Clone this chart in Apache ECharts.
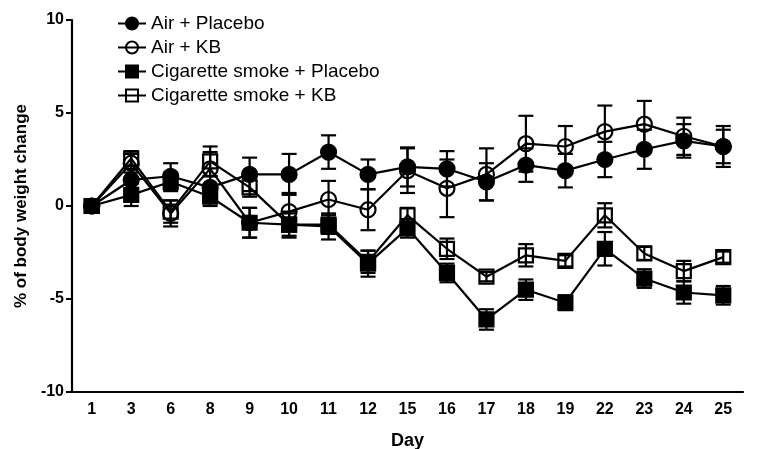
<!DOCTYPE html>
<html>
<head>
<meta charset="utf-8">
<script src="https://cdn.jsdelivr.net/npm/echarts@6/dist/echarts.min.js"></script>
<style>html,body{margin:0;padding:0;background:#fff}#c{width:761px;height:449px}</style>
</head>
<body>
<div id="c"></div>
<script>
const days = ['1','3','6','8','9','10','11','12','15','16','17','18','19','22','23','24','25'];
const yTicks = [-10, -5, 0, 5, 10];

const airPlacebo    = [0, 1.4, 1.6, 1.0, 1.7, 1.7, 2.9, 1.7, 2.1, 2.0, 1.3, 2.2, 1.9, 2.5, 3.05, 3.5, 3.2];
const airPlaceboErr = [0, 0.6, 0.7, 0.6, 0.9, 1.1, 0.9, 0.8, 1.05, 0.95, 1.0, 0.9, 0.9, 0.95, 1.05, 0.9, 0.9];

const airKB    = [0, 2.3, -0.4, 2.0, -0.9, -0.3, 0.35, -0.2, 1.9, 0.95, 1.7, 3.35, 3.2, 4.0, 4.4, 3.75, 3.2];
const airKBErr = [0, 0.5, 0.7, 0.9, 0.8, 1.0, 1.0, 1.1, 1.2, 1.55, 1.4, 1.5, 1.1, 1.4, 1.25, 1.0, 1.1];

const cigPlacebo    = [0, 0.6, 1.3, 0.5, -0.9, -1.0, -1.1, -3.1, -1.2, -3.6, -6.1, -4.5, -5.2, -2.3, -3.9, -4.65, -4.8];
const cigPlaceboErr = [0, 0.6, 0.5, 0.5, 0.8, 0.7, 0.7, 0.7, 0.5, 0.5, 0.55, 0.55, 0.4, 0.9, 0.5, 0.6, 0.5];

const cigKB    = [0, 2.55, -0.3, 2.4, 1.0, -1.0, -1.0, -3.0, -0.5, -2.3, -3.8, -2.65, -2.95, -0.5, -2.55, -3.5, -2.75];
const cigKBErr = [0, 0.4, 0.6, 0.8, 0.5, 0.6, 0.5, 0.6, 0.4, 0.55, 0.25, 0.6, 0.3, 0.65, 0.35, 0.55, 0.3];

const seriesDefs = [
  {name: 'Air + Placebo', mean: airPlacebo, err: airPlaceboErr, symbol: 'circle', filled: true, size: 15},
  {name: 'Air + KB', mean: airKB, err: airKBErr, symbol: 'circle', filled: false, size: 15},
  {name: 'Cigarette smoke + Placebo', mean: cigPlacebo, err: cigPlaceboErr, symbol: 'rect', filled: true, size: 14},
  {name: 'Cigarette smoke + KB', mean: cigKB, err: cigKBErr, symbol: 'rect', filled: false, size: 14}
];

function renderErr(params, api) {
  const x = api.value(0), lo = api.value(1), hi = api.value(2);
  if (hi === lo) return null;
  const p1 = api.coord([x, hi]);
  const p2 = api.coord([x, lo]);
  const w = 7.5;
  const st = {stroke: '#000', lineWidth: 2.2};
  return {type: 'group', children: [
    {type: 'line', shape: {x1: p1[0], y1: p1[1], x2: p2[0], y2: p2[1]}, style: st},
    {type: 'line', shape: {x1: p1[0] - w, y1: p1[1], x2: p1[0] + w, y2: p1[1]}, style: st},
    {type: 'line', shape: {x1: p2[0] - w, y1: p2[1], x2: p2[0] + w, y2: p2[1]}, style: st}
  ]};
}

const series = [];
seriesDefs.forEach(function (d) {
  series.push({
    type: 'custom',
    name: d.name + ' err',
    renderItem: renderErr,
    encode: {x: 0, y: [1, 2]},
    data: d.mean.map(function (m, i) { return [i, m - d.err[i], m + d.err[i]]; }),
    z: 2,
    silent: true
  });
});
seriesDefs.forEach(function (d) {
  series.push({
    type: 'line',
    name: d.name,
    data: d.mean,
    symbol: d.symbol,
    symbolSize: d.size,
    showAllSymbol: true,
    lineStyle: {color: '#000', width: 2.2},
    itemStyle: {color: d.filled ? '#000' : 'rgba(255,255,255,0)', borderColor: '#000', borderWidth: 2.2},
    emphasis: {disabled: true},
    z: 3
  });
});

const chart = echarts.init(document.getElementById('c'), null, {renderer: 'canvas'});
chart.setOption({
  animation: false,
  backgroundColor: '#fff',
  textStyle: {fontFamily: 'Liberation Sans', color: '#000'},
  legend: {
    data: seriesDefs.map(function (d) { return d.name; }),
    orient: 'vertical',
    left: 112,
    top: 9,
    itemWidth: 28,
    itemHeight: 15,
    itemGap: 5,
    textStyle: {fontSize: 19, color: '#000', fontFamily: 'Liberation Sans'}
  },
  grid: {left: 72, right: 18, top: 20, bottom: 57, containLabel: false, outerBoundsMode: 'none'},
  xAxis: {
    type: 'category',
    data: days,
    boundaryGap: true,
    name: 'Day',
    nameLocation: 'middle',
    nameGap: 40,
    nameTextStyle: {fontSize: 18, fontWeight: 'bold', color: '#000'},
    axisLine: {onZero: false, lineStyle: {color: '#000', width: 2.2}},
    axisTick: {alignWithLabel: true, length: 6, lineStyle: {color: '#000', width: 2}},
    axisLabel: {fontSize: 16, fontWeight: 'bold', color: '#000', margin: 10, interval: 0},
    splitLine: {show: false}
  },
  yAxis: {
    type: 'value',
    min: yTicks[0],
    max: yTicks[yTicks.length - 1],
    interval: 5,
    name: '% of body weight change',
    nameLocation: 'middle',
    nameGap: 39,
    nameRotate: 90,
    nameTextStyle: {fontSize: 17, fontWeight: 'bold', color: '#000'},
    axisLine: {show: true, onZero: false, lineStyle: {color: '#000', width: 2.2}},
    axisTick: {show: true, length: 6, lineStyle: {color: '#000', width: 2}},
    axisLabel: {fontSize: 16, fontWeight: 'bold', color: '#000', margin: 8},
    splitLine: {show: false}
  },
  series: series
});
</script>
</body>
</html>
